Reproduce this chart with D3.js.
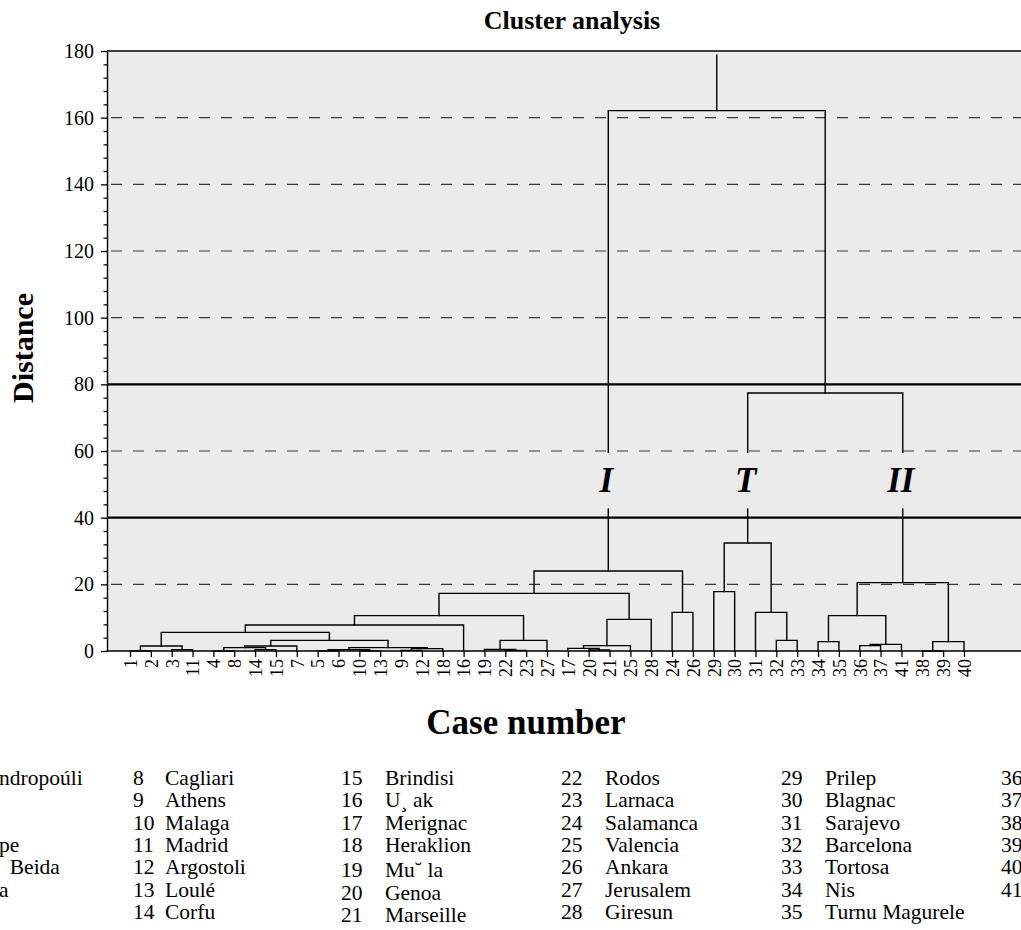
<!DOCTYPE html>
<html>
<head>
<meta charset="utf-8">
<script src="https://cdn.jsdelivr.net/npm/d3@7"></script>
<style>
  html, body { margin: 0; padding: 0; background: #fff; }
  svg text { font-family: "Liberation Serif", "Times New Roman", serif; }
</style>
</head>
<body>
<svg id="chart" width="1021" height="930"></svg>
<script>
// Dendrogram: each internal node is [distance, left, right]; leaves are case numbers.
const clusterI = [24.0,
  [17.3,
    [10.6,
      [7.8,
        [5.6,
          [1.5, [0, 1, 2], [0.4, 3, 11]],
          [3.2,
            [1.5, [1.0, [0, 4, 8], [0.4, 14, 15]], 7],
            [1.0, [0.4, [0, 5, 6], [0, 10, 13]], [0.7, [0.2, 9, 12], 18]]
          ]
        ],
        16
      ],
      [3.2, [0.5, 19, [0.2, 22, 23]], 27]
    ],
    [9.5, [1.6, [0.8, 17, [0.3, 20, 21]], 25], 28]
  ],
  [11.6, 24, 26]
];
const clusterT = [32.4, [17.8, 29, 30], [11.6, 31, [3.2, 32, 33]]];
const clusterII = [20.5,
  [10.6, [2.8, 34, 35], [2.0, [1.6, 36, 37], 41]],
  [2.8, [0, 38, 39], 40]
];
const rootTree = [162.1, clusterI, [77.4, clusterT, clusterII]];
const rootStemTop = 178.8;

const groupNames = ["I", "T", "II"];
const groupTrees = [clusterI, clusterT, clusterII];

const yTicks = [0, 20, 40, 60, 80, 100, 120, 140, 160, 180];
const dashedLevels = [20, 60, 100, 120, 140, 160];
const cutLevels = [40, 80];

// Station names listed under the chart (cases 8–35 are fully on the page).
const caseNames = {
  8: "Cagliari", 9: "Athens", 10: "Malaga", 11: "Madrid", 12: "Argostoli", 13: "Loulé", 14: "Corfu",
  15: "Brindisi", 16: "U\u00B8 ak", 17: "Merignac", 18: "Heraklion", 19: "Mu\u02D8 la", 20: "Genoa", 21: "Marseille",
  22: "Rodos", 23: "Larnaca", 24: "Salamanca", 25: "Valencia", 26: "Ankara", 27: "Jerusalem", 28: "Giresun",
  29: "Prilep", 30: "Blagnac", 31: "Sarajevo", 32: "Barcelona", 33: "Tortosa", 34: "Nis", 35: "Turnu Magurele"
};
// Ends of the first column's names that reach onto the page.
const firstColumnTails = ["ndropoúli", "", "", "pe", "  Beida", "a", ""];

const svg = d3.select("#chart");
const plot = { left: 107, top: 51, bottom: 651, right: 1040 };

const y = d3.scaleLinear().domain([0, 180]).range([plot.bottom, plot.top]);

// Build hierarchy from nested arrays
function toNode(t) {
  if (typeof t === "number") return { caseNo: t, h: 0 };
  return { h: t[0], children: [toNode(t[1]), toNode(t[2])], src: t };
}
const root = d3.hierarchy(toNode(rootTree));
const leafOrder = root.leaves().map(d => d.data.caseNo);

const x = d3.scalePoint().domain(leafOrder).range([130, 964]);

root.eachAfter(d => {
  d.px = d.children ? d3.mean(d.children, c => c.px) : x(d.data.caseNo);
});

// Plot background
svg.append("rect")
  .attr("x", plot.left).attr("y", plot.top)
  .attr("width", plot.right - plot.left).attr("height", plot.bottom - plot.top)
  .attr("fill", "#ebebeb");

// Dashed reference levels
svg.append("g").selectAll("line").data(dashedLevels).join("line")
  .attr("x1", plot.left).attr("x2", plot.right)
  .attr("y1", d => y(d)).attr("y2", d => y(d))
  .attr("stroke", "#3a3a3a").attr("stroke-width", 1.2)
  .attr("stroke-dasharray", "11,11").attr("stroke-dashoffset", -4);

// Solid cut levels
svg.append("g").selectAll("line").data(cutLevels).join("line")
  .attr("x1", plot.left).attr("x2", plot.right)
  .attr("y1", d => y(d)).attr("y2", d => y(d))
  .attr("stroke", "#000").attr("stroke-width", 2.2);

// Top border
svg.append("line")
  .attr("x1", plot.left).attr("x2", plot.right)
  .attr("y1", plot.top).attr("y2", plot.top)
  .attr("stroke", "#000").attr("stroke-width", 1.6);

// Dendrogram elbows
const links = svg.append("g")
  .attr("fill", "none").attr("stroke", "#000").attr("stroke-width", 1.4)
  .attr("stroke-linecap", "square");
root.each(d => {
  if (!d.children) return;
  const hy = y(d.data.h);
  const [a, b] = d.children;
  links.append("path")
    .attr("d", `M${a.px},${y(a.data.h)}V${hy}H${b.px}V${y(b.data.h)}`);
});
links.append("path").attr("d", `M${root.px},${y(root.data.h)}V${y(rootStemTop)}`);

// Group labels sitting on the group stems
const groupNodes = groupTrees.map(t => root.descendants().find(d => d.data.src === t));
const gl = svg.append("g");
groupNodes.forEach((n, i) => {
  const bw = groupNames[i].length > 1 ? 46 : 34;
  gl.append("rect")
    .attr("x", n.px - bw / 2).attr("y", y(59.4))
    .attr("width", bw).attr("height", y(42.8) - y(59.4))
    .attr("fill", "#ebebeb");
  gl.append("text")
    .attr("x", n.px - 2).attr("y", y(47.8))
    .attr("text-anchor", "middle")
    .attr("font-size", 35).attr("font-weight", "bold").attr("font-style", "italic")
    .text(groupNames[i]);
});

// Y axis with minor ticks
const yAxis = svg.append("g").attr("transform", `translate(${plot.left},0)`)
  .call(d3.axisLeft(y).tickValues(yTicks).tickSize(6).tickPadding(7).tickSizeOuter(0));
yAxis.select(".domain").attr("stroke-width", 1.4);
yAxis.selectAll(".tick line").attr("stroke-width", 1.3);
yAxis.selectAll("text").attr("font-size", 20).attr("font-family", null).attr("fill", "#000");
svg.append("g").attr("transform", `translate(${plot.left},0)`)
  .call(d3.axisLeft(y).tickValues(d3.range(0, 181, 4).filter(v => v % 20)).tickSize(3.5).tickFormat(""))
  .call(g => g.select(".domain").remove())
  .selectAll("line").attr("stroke-width", 1.2);

// X axis: case numbers at the leaves
const xAxis = svg.append("g").attr("transform", `translate(0,${plot.bottom})`)
  .call(d3.axisBottom(x).tickSize(6).tickSizeOuter(0).tickPadding(2));
xAxis.select(".domain").attr("d", `M${plot.left},0H${plot.right}`).attr("stroke-width", 1.4);
xAxis.selectAll(".tick line").attr("stroke-width", 1.3);
xAxis.selectAll("text")
  .attr("font-size", 18).attr("font-family", null).attr("fill", "#000")
  .attr("text-anchor", "end").attr("dy", "0.35em")
  .attr("transform", "translate(0,8) rotate(-90)")
  .attr("x", 0).attr("y", 0);

// Titles
svg.append("text").attr("x", 572).attr("y", 29).attr("text-anchor", "middle")
  .attr("font-size", 26).attr("font-weight", "bold").text("Cluster analysis");
svg.append("text").attr("transform", `translate(33,348) rotate(-90)`).attr("text-anchor", "middle")
  .attr("font-size", 30).attr("font-weight", "bold").text("Distance");
svg.append("text").attr("x", 526).attr("y", 734).attr("text-anchor", "middle")
  .attr("font-size", 35).attr("font-weight", "bold").text("Case number");

// Case list below the chart: seven rows per column
const table = svg.append("g").attr("font-size", 21.5).attr("fill", "#000");
const rowY = (i, col) => 785 + i * 22.3 + (col === 2 && i >= 4 ? 3 : 0);
table.selectAll(".tail").data(firstColumnTails).join("text")
  .attr("class", "tail").attr("x", -1).attr("y", (d, i) => rowY(i, 0))
  .style("white-space", "pre").text(d => d);
const caseNos = d3.range(8, 42);
caseNos.forEach(c => {
  const col = Math.floor((c - 1) / 7);
  const row = (c - 1) % 7;
  const nameX = -55 + 220 * col;
  const numX = col === 1 ? 133 : nameX - 44;
  table.append("text").attr("x", numX).attr("y", rowY(row, col)).text(c);
  if (caseNames[c]) table.append("text").attr("x", nameX).attr("y", rowY(row, col)).text(caseNames[c]);
});
</script>
</body>
</html>
